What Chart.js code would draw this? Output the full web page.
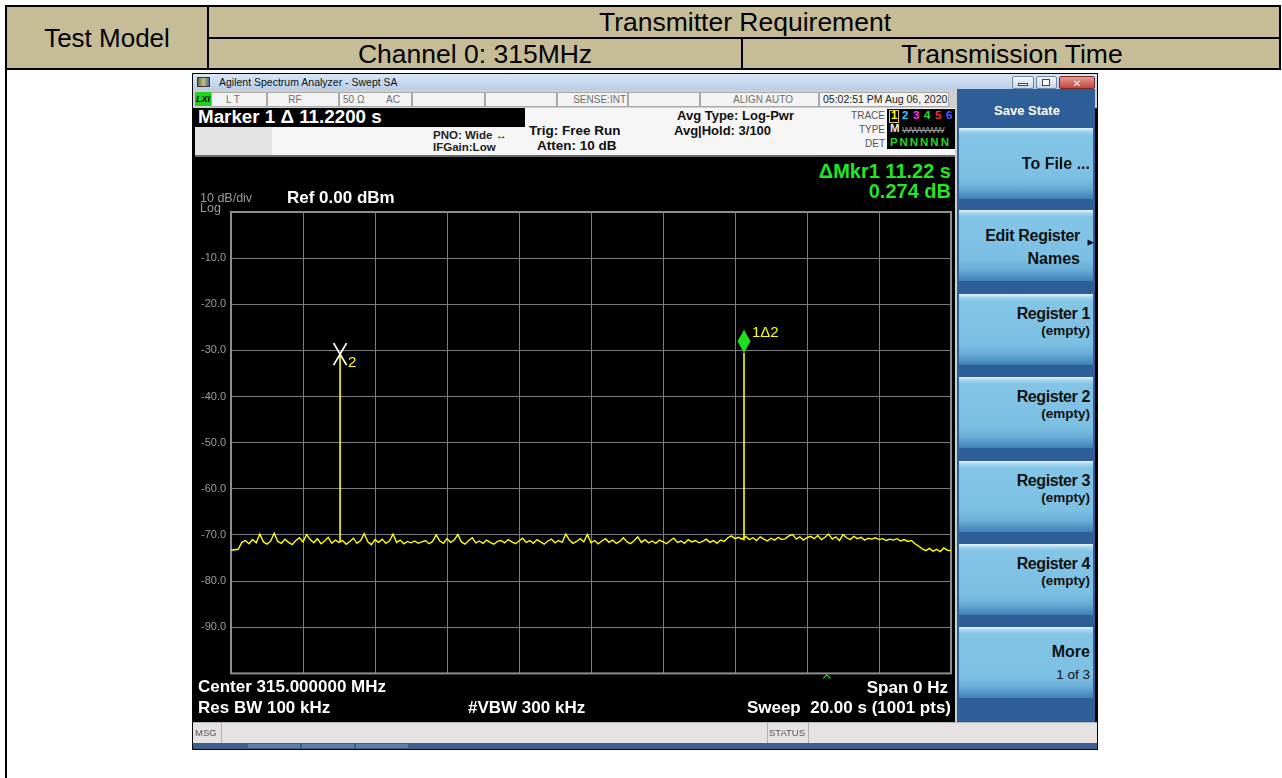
<!DOCTYPE html>
<html><head><meta charset="utf-8">
<script src="https://cdn.jsdelivr.net/npm/chart.js"></script>
<style>
body{margin:0;width:1282px;height:778px;overflow:hidden;background:#fff;position:relative;font-family:"Liberation Sans",Arial,sans-serif;}
.b{position:absolute;box-sizing:border-box;}
.t{position:absolute;line-height:1;white-space:nowrap;}
.key{position:absolute;left:959px;width:134px;height:71px;background:linear-gradient(to bottom,#eaf6fd 0px,#a6d6ef 3px,#84c5e6 7px,#7bbfe3 70%,#6aaed8 84%,#3f80b5 100%);}
#plotWrap{position:absolute;left:201px;top:200px;width:752px;height:480px;}
</style></head><body>
<div id="plotWrap"><canvas id="c"></canvas></div>
<script>
// ---------------- data ----------------
const sweepStart = 0;          // s
const sweepStop = 20;          // s
const sweepStep = 0.1;         // s between trace samples
const refLevel = 0;            // dBm
const bottomLevel = -100;      // dBm
const yTickValues = [-10, -20, -30, -40, -50, -60, -70, -80, -90];
const yTickLabels = ['-10.0', '-20.0', '-30.0', '-40.0', '-50.0', '-60.0', '-70.0', '-80.0', '-90.0'];
// trace 1 levels (dBm), one per 0.1 s, 0.0 s .. 20.0 s
const traceLevels = [
  -73.3,-73.2,-73.1,-71.6,-71.2,-71.9,-71.0,-71.7,-69.8,-71.5,
  -72.0,-71.3,-69.6,-71.4,-71.8,-70.9,-71.6,-72.1,-71.2,-70.6,
  -71.5,-69.9,-71.0,-71.7,-70.8,-71.9,-71.3,-70.5,-71.8,-71.1,
  -71.6,-71.2,-72.0,-71.4,-70.7,-71.8,-71.2,-69.7,-71.5,-72.1,
  -71.0,-71.6,-70.9,-71.8,-71.3,-69.8,-71.6,-71.1,-71.9,-71.4,
  -71.7,-71.3,-71.8,-71.5,-71.2,-71.9,-71.4,-70.0,-71.3,-71.8,
  -70.8,-71.6,-71.1,-69.9,-71.5,-72.0,-71.2,-70.6,-71.7,-71.3,
  -71.8,-71.1,-71.6,-72.0,-71.4,-71.2,-71.7,-71.0,-71.5,-71.9,
  -71.3,-70.7,-71.6,-71.2,-71.8,-71.0,-71.5,-72.0,-71.3,-70.9,
  -71.7,-71.2,-71.6,-69.8,-71.1,-71.8,-71.4,-70.8,-71.5,-69.9,
  -71.7,-71.2,-71.9,-71.3,-70.8,-71.6,-71.1,-71.8,-71.4,-70.6,
  -71.5,-71.9,-71.2,-70.4,-71.6,-71.0,-71.7,-71.3,-71.8,-71.1,
  -71.5,-71.9,-71.2,-70.7,-71.6,-71.3,-71.8,-71.0,-71.5,-71.2,
  -71.7,-71.4,-70.9,-71.6,-71.2,-71.8,-71.1,-71.4,-70.6,-70.2,
  -70.8,-70.5,-70.9,-70.3,-71.0,-70.6,-71.2,-70.4,-70.9,-71.3,
  -70.7,-71.1,-70.5,-71.0,-70.8,-70.2,-69.9,-70.9,-70.4,-71.1,
  -70.6,-70.3,-70.8,-70.1,-71.0,-70.5,-69.8,-70.9,-70.4,-71.2,
  -69.9,-70.6,-71.0,-70.3,-70.8,-70.5,-71.1,-70.7,-70.9,-70.6,
  -71.0,-70.8,-71.2,-70.9,-71.1,-70.8,-71.3,-71.0,-71.4,-71.2,
  -71.9,-72.4,-73.0,-73.4,-72.9,-73.5,-73.1,-73.6,-72.8,-73.3,
  -73.4
];
// burst pulses (marker 1 and marker 2)
const pulseTimes  = [14.25, 3.03];   // s
const pulseLevels = [-30.5, -30.8];  // dBm (peak)
const pulseBase   = [-71.2, -71.5];  // dBm (floor under the pulse)
const markerNames = ['1\u03942', '2'];
const refCaretTime = 16.55;          // s, green caret on the x axis

// ---------------- chart ----------------
const traceData = traceLevels.map((v, i) => ({x: sweepStart + i * sweepStep, y: v}));
const pulseSets = pulseTimes.map((t, i) => ({
  data: [{x: t, y: pulseBase[i]}, {x: t, y: pulseLevels[i]}],
  borderColor: '#ffff00', borderWidth: 1.6, pointRadius: 0, tension: 0
}));

const framePlugin = {
  id: 'frame',
  beforeDatasetsDraw(chart) {
    const {ctx, chartArea: a} = chart;
    ctx.save();
    ctx.strokeStyle = '#8e8e8e';
    ctx.lineWidth = 2;
    ctx.strokeRect(a.left, a.top, a.right - a.left, a.bottom - a.top);
    ctx.restore();
  }
};
const markerPlugin = {
  id: 'markers',
  afterDatasetsDraw(chart) {
    const {ctx, scales: {x, y}} = chart;
    ctx.save();
    // marker 1: green diamond above the peak
    const x1 = x.getPixelForValue(pulseTimes[0]);
    const y1 = y.getPixelForValue(pulseLevels[0]);
    ctx.fillStyle = '#1fe01f';
    ctx.beginPath();
    ctx.moveTo(x1, y1);
    ctx.lineTo(x1 - 6.5, y1 - 11.5);
    ctx.lineTo(x1, y1 - 23);
    ctx.lineTo(x1 + 6.5, y1 - 11.5);
    ctx.closePath();
    ctx.fill();
    ctx.fillStyle = '#ffff00';
    ctx.font = '15px "Liberation Sans"';
    ctx.textBaseline = 'alphabetic';
    ctx.fillText(markerNames[0], x1 + 8, y1 - 16);
    // marker 2: white X on the peak
    const x2 = x.getPixelForValue(pulseTimes[1]);
    const y2 = y.getPixelForValue(pulseLevels[1]);
    ctx.strokeStyle = '#ffffff';
    ctx.lineWidth = 1.8;
    ctx.beginPath();
    ctx.moveTo(x2 - 6.5, y2 - 11); ctx.lineTo(x2 + 6.5, y2 + 11);
    ctx.moveTo(x2 + 6.5, y2 - 11); ctx.lineTo(x2 - 6.5, y2 + 11);
    ctx.stroke();
    ctx.fillStyle = '#ffff00';
    ctx.font = '15px "Liberation Sans"';
    ctx.fillText(markerNames[1], x2 + 8, y2 + 13);
    // green caret under the grid
    const xc = x.getPixelForValue(refCaretTime);
    const yb = chart.chartArea.bottom;
    ctx.strokeStyle = '#22dd22';
    ctx.lineWidth = 1.3;
    ctx.beginPath();
    ctx.moveTo(xc - 3.5, yb + 5); ctx.lineTo(xc, yb + 1.5); ctx.lineTo(xc + 3.5, yb + 5);
    ctx.stroke();
    ctx.restore();
  }
};

new Chart(document.getElementById('c'), {
  type: 'line',
  data: {
    datasets: [
      {data: traceData, borderColor: '#ffff00', borderWidth: 1.4, pointRadius: 0, tension: 0},
      ...pulseSets
    ]
  },
  options: {
    responsive: true, maintainAspectRatio: false, animation: false,
    layout: {padding: {top: 12, right: 2, bottom: 5, left: 0}},
    plugins: {legend: {display: false}, tooltip: {enabled: false}},
    scales: {
      x: {
        type: 'linear', min: sweepStart, max: sweepStop,
        ticks: {display: false, stepSize: 2},
        grid: {color: '#7c7c7c', lineWidth: 1, drawTicks: false},
        border: {display: false},
        afterFit: s => { s.height = 0; }
      },
      y: {
        min: bottomLevel, max: refLevel,
        ticks: {
          stepSize: 10, color: '#9d9d9d', padding: 0, crossAlign: 'far',
          font: {family: 'Liberation Sans', size: 11},
          callback: v => { const i = yTickValues.indexOf(v); return i >= 0 ? yTickLabels[i] : ''; }
        },
        grid: {color: '#7c7c7c', lineWidth: 1, drawTicks: false},
        border: {display: false},
        afterFit: s => { s.width = 30; }
      }
    }
  },
  plugins: [framePlugin, markerPlugin]
});

// ---------------- page furniture ----------------
function B(x, y, w, h, style) {
  const d = document.createElement('div');
  d.className = 'b';
  d.style.cssText = `left:${x}px;top:${y}px;width:${w}px;height:${h}px;` + (style || '');
  document.body.insertBefore(d, document.getElementById('plotWrap'));
  return d;
}
function T(x, base, str, size, color, o) {
  o = o || {};
  const s = document.createElement('span');
  s.className = 't';
  s.textContent = str;
  const top = base - 0.846 * size;
  let css = `top:${top}px;font-size:${size}px;color:${color};font-weight:${o.w || 'normal'};`;
  if (o.family) css += `font-family:${o.family};`;
  if (o.ls) css += `letter-spacing:${o.ls}px;`;
  if (o.align === 'right') css += `right:${1282 - x}px;`;
  else if (o.align === 'center') css += `left:${x}px;transform:translateX(-50%);`;
  else css += `left:${x}px;`;
  if (o.extra) css += o.extra;
  s.style.cssText = css;
  document.body.appendChild(s);
  return s;
}

// table header
B(7, 7, 1272, 61, 'background:#c6bd98;');
B(5, 5, 1276, 2, 'background:#000;');
B(5, 5, 2, 773, 'background:#000;');
B(5, 68, 1276, 2, 'background:#000;');
B(209, 37, 1070, 2, 'background:#000;');
B(207, 7, 2, 61, 'background:#000;');
B(741, 39, 2, 29, 'background:#000;');
B(1279, 5, 2, 65, 'background:#000;');
T(107, 47, 'Test Model', 26, '#000', {align: 'center'});
T(745, 31, 'Transmitter Requirement', 26.5, '#000', {align: 'center'});
T(475, 63, 'Channel 0: 315MHz', 26.5, '#000', {align: 'center'});
T(1012, 63, 'Transmission Time', 26.5, '#000', {align: 'center'});

// analyzer window
B(192, 73, 906, 677, 'background:#000;');
B(193, 74, 904, 16, 'background:linear-gradient(#d9e6f5,#b7cde8);');
B(197, 77, 13, 10, 'background:linear-gradient(90deg,#6b6b3a,#c8c080,#4a6a8a);border:1px solid #333;');
T(219, 86, 'Agilent Spectrum Analyzer - Swept SA', 10.5, '#111');
B(1012, 76, 22, 13, 'background:linear-gradient(#f4f7fb,#c9d6e6);border:1px solid #6f86a6;border-radius:2px;');
B(1036, 76, 21, 13, 'background:linear-gradient(#f4f7fb,#c9d6e6);border:1px solid #6f86a6;border-radius:2px;');
B(1059, 76, 36, 13, 'background:linear-gradient(#e39a90,#c4463a);border:1px solid #7a2a22;border-radius:2px;');
B(1018, 83, 10, 3, 'background:#fff;border:1px solid #445;');
B(1042, 79, 8, 7, 'border:1px solid #445;background:#fff;');
T(1077, 87, '\u2715', 10, '#fff', {align: 'center', w: 'bold', family: '"DejaVu Sans"'});

// status row
B(193, 90, 904, 18, 'background:#cfcfcf;');
B(195, 92, 16, 14, 'background:#1ed21e;');
T(196, 103, 'LXI', 9, '#000', {w: 'bold', extra: 'font-style:italic;'});
const cells = [[211, 267], [267, 339], [339, 412], [412, 485], [485, 557], [557, 628], [628, 700], [700, 819], [819, 949]];
cells.forEach(c => B(c[0], 92, c[1] - c[0], 15, 'background:#f3f3f3;border:1px solid #a8a8a8;'));
T(233, 103, 'L T', 10, '#6e6e6e', {align: 'center'});
T(295, 103, 'RF', 10, '#6e6e6e', {align: 'center'});
T(343, 103, '50 \u03a9', 10, '#6e6e6e');
T(386, 103, 'AC', 10, '#6e6e6e');
T(626, 103, 'SENSE:INT', 10, '#6e6e6e', {align: 'right'});
T(763, 103, 'ALIGN AUTO', 10, '#6e6e6e', {align: 'center'});
T(823, 103, '05:02:51 PM Aug 06, 2020', 10.5, '#222');

// info area
B(195, 108, 760, 47, 'background:#f6f6f6;');
B(195, 127, 77, 28, 'background:#e4e4e4;');
B(195, 108, 330, 19, 'background:#000;');
B(195, 155, 760, 2, 'background:#6a6a6a;');
T(198, 124, 'Marker 1 \u0394 11.2200 s', 18.8, '#fff', {w: 'bold'});
T(433, 140, 'PNO: Wide \u2194', 11.5, '#222', {w: 'bold'});
T(433, 152, 'IFGain:Low', 11.5, '#222', {w: 'bold'});
T(529, 135, 'Trig: Free Run', 13.5, '#111', {w: 'bold'});
T(537, 150, 'Atten: 10 dB', 13.5, '#111', {w: 'bold'});
T(677, 120, 'Avg Type: Log-Pwr', 13, '#111', {w: 'bold'});
T(674, 135, 'Avg|Hold: 3/100', 13, '#111', {w: 'bold'});
T(885, 119, 'TRACE', 10, '#555', {align: 'right'});
T(885, 133, 'TYPE', 10, '#555', {align: 'right'});
T(885, 147, 'DET', 10, '#555', {align: 'right'});
B(887, 109, 68, 40, 'background:#000;');
B(889, 110, 10, 13, 'border:1px solid #e0d040;');
const traceNums = ['1', '2', '3', '4', '5', '6'];
const traceCols = ['#ffff00', '#22d0ff', '#ff30ff', '#30e030', '#ff3030', '#5060ff'];
traceNums.forEach((n, i) => T(891 + i * 11, 120, n, 11.5, traceCols[i], {w: 'bold'}));
T(890, 133, 'M', 11.5, '#e8e8e8', {w: 'bold'});
T(902, 133, 'WWWWW', 9.5, '#9a9a9a', {extra: 'text-decoration:line-through;letter-spacing:-0.5px;'});
T(890, 147, 'P N N N N N', 11.5, '#20d820', {w: 'bold', ls: -0.6});

// marker readout + scale labels
T(951, 178, '\u0394Mkr1 11.22 s', 20, '#22e622', {w: 'bold', align: 'right'});
T(951, 198, '0.274 dB', 20, '#22e622', {w: 'bold', align: 'right'});
T(200, 203, '10 dB/div', 12.5, '#9a9a9a');
T(200, 213, 'Log', 12.5, '#9a9a9a');
T(287, 203, 'Ref 0.00 dBm', 17, '#fff', {w: 'bold'});

// bottom annotations
T(198, 692, 'Center 315.000000 MHz', 17, '#fff', {w: 'bold'});
T(198, 713, 'Res BW 100 kHz', 17, '#fff', {w: 'bold'});
T(468, 713, '#VBW 300 kHz', 17, '#fff', {w: 'bold'});
T(948, 693, 'Span 0 Hz', 17, '#fff', {w: 'bold', align: 'right'});
T(951, 713, 'Sweep  20.00 s (1001 pts)', 17, '#fff', {w: 'bold', align: 'right', extra: 'white-space:pre;'});

// MSG / STATUS bar
B(193, 722, 904, 21, 'background:#e6e2e3;border-top:1px solid #b5b5b5;');
B(193, 722, 29, 21, 'border-right:1px solid #b0b0b0;');
B(767, 722, 42, 21, 'border-left:1px solid #b0b0b0;border-right:1px solid #b0b0b0;');
T(195, 736, 'MSG', 9.5, '#555');
T(769, 736, 'STATUS', 9.5, '#555');
B(193, 743, 904, 6, 'background:#3c5f8d;');
B(248, 744, 52, 4, 'background:#5d7ea8;');
B(302, 744, 52, 4, 'background:#5d7ea8;');
B(356, 744, 52, 4, 'background:#5d7ea8;');

// softkey panel
B(955, 89, 2, 633, 'background:#cfcfcf;');
B(957, 89, 138, 633, 'background:#2e5e97;');
T(1027, 115, 'Save State', 13, '#fff', {w: 'bold', align: 'center'});
const keyTops = [128, 210, 294, 377, 461, 544, 627];
keyTops.forEach(y => { const d = B(959, y, 134, 71, ''); d.className = 'key'; d.style.top = y + 'px'; });
T(1090, 170, 'To File ...', 16, '#111', {w: 'bold', align: 'right'});
T(1080, 242, 'Edit Register', 16, '#111', {w: 'bold', align: 'right', ls: -0.3});
T(1094, 246, '\u25b8', 13, '#111', {align: 'right', family: '"DejaVu Sans"'});
T(1080, 265, 'Names', 16, '#111', {w: 'bold', align: 'right'});
const regTops = [294, 377, 461, 544];
const regNames = ['Register 1', 'Register 2', 'Register 3', 'Register 4'];
regTops.forEach((y, i) => {
  T(1090, y + 26, regNames[i], 16, '#111', {w: 'bold', align: 'right', ls: -0.4});
  T(1090, y + 41, '(empty)', 13.5, '#111', {w: 'bold', align: 'right'});
});
T(1090, 658, 'More', 16, '#111', {w: 'bold', align: 'right'});
T(1090, 679, '1 of 3', 13.5, '#111', {align: 'right'});
</script>
</body></html>
